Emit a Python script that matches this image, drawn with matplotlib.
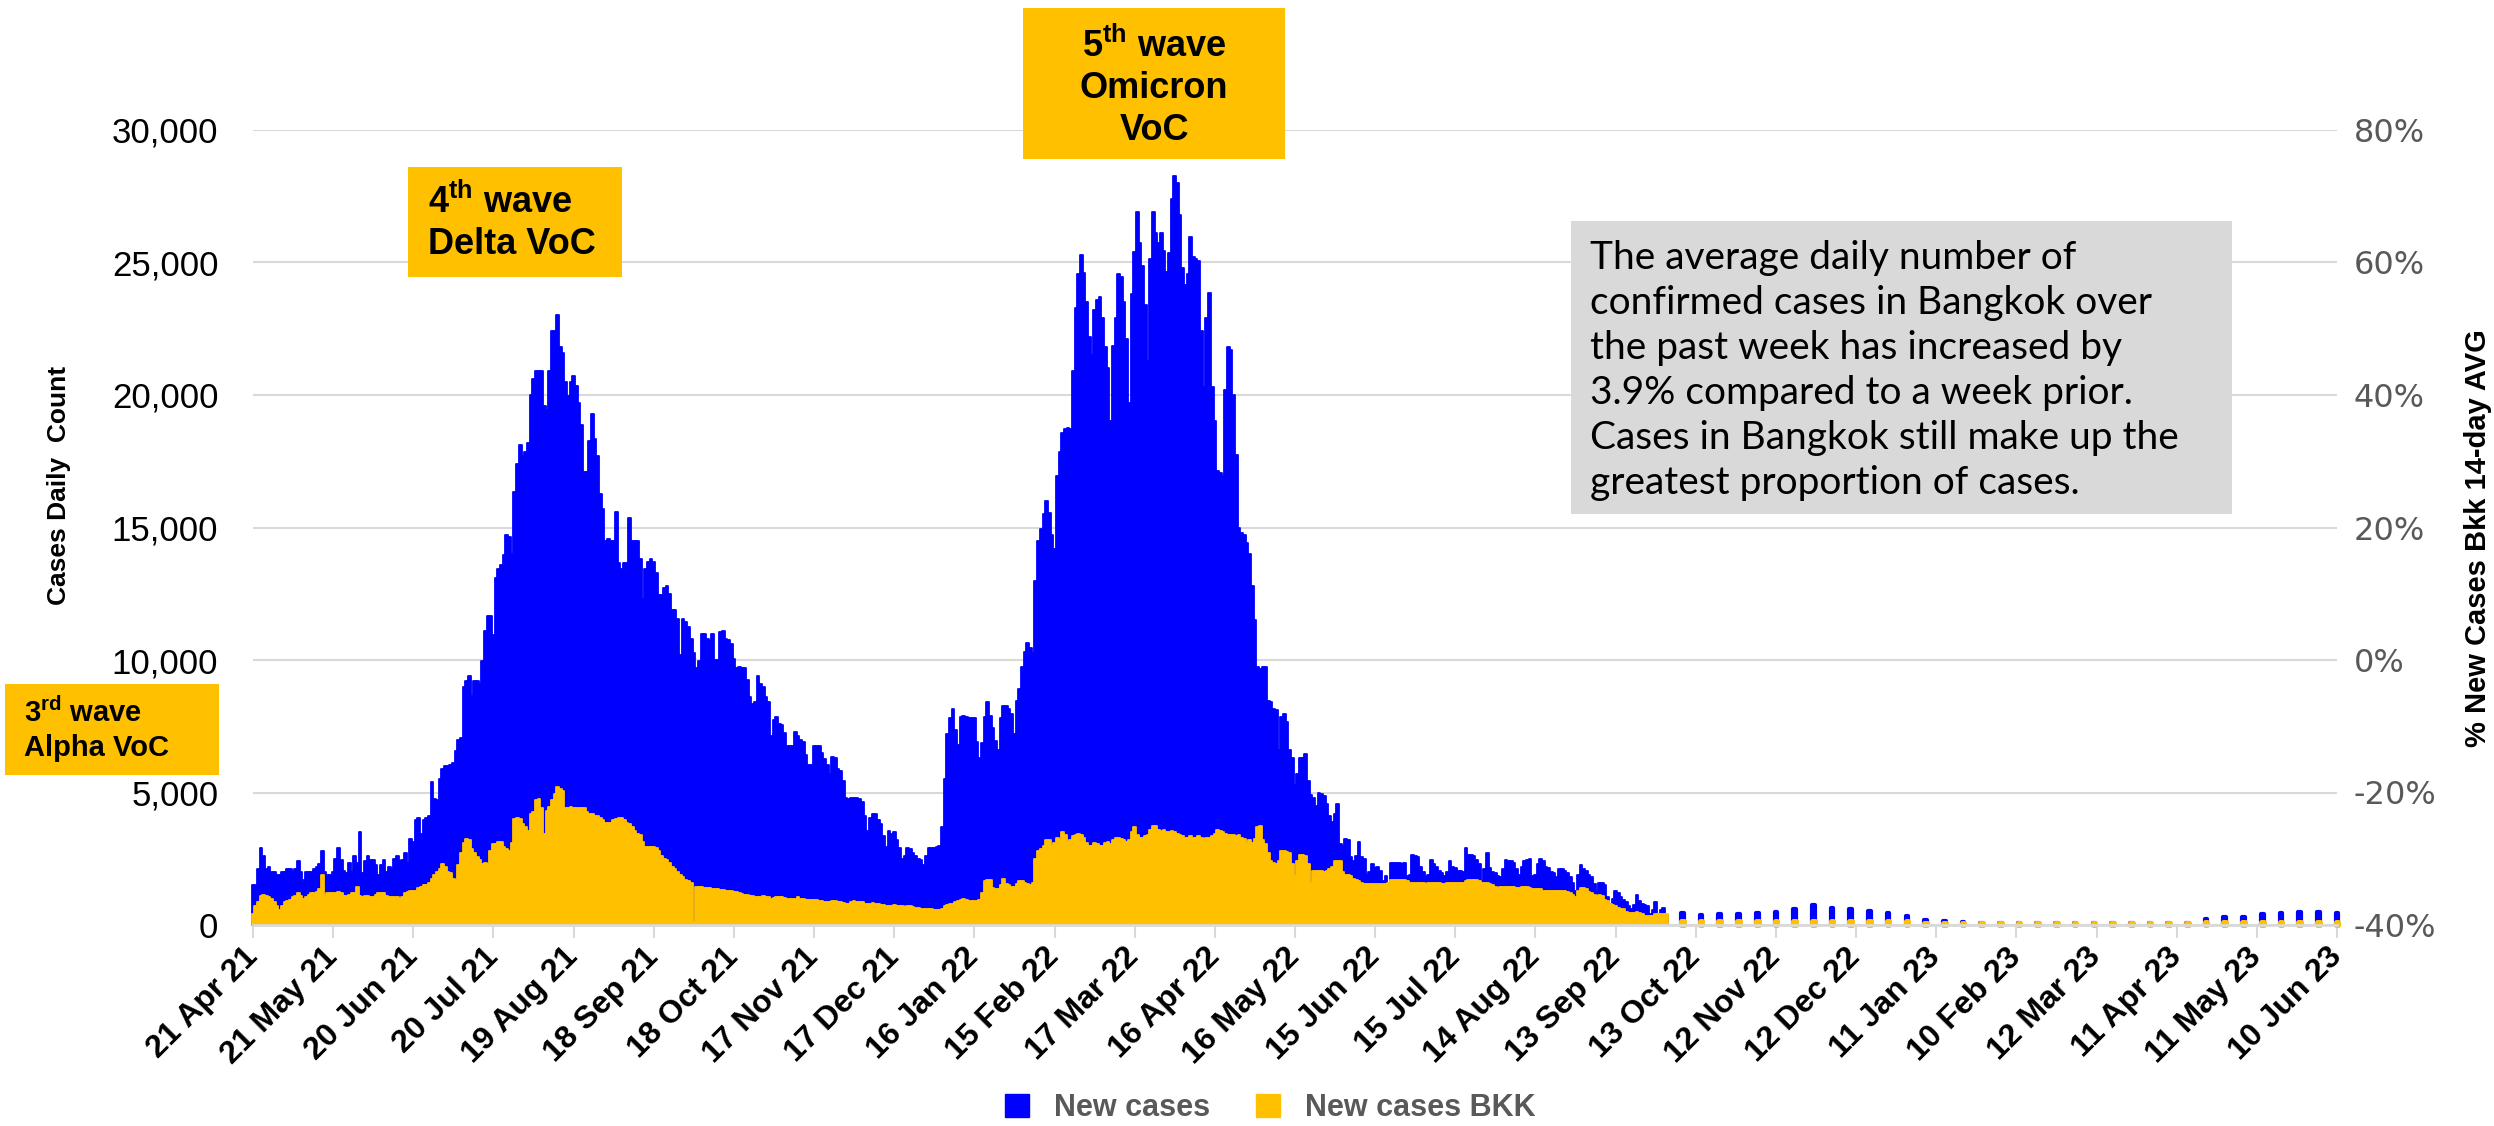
import matplotlib
matplotlib.use("Agg")  # headless
import matplotlib.pyplot as plt
from matplotlib.patches import Rectangle, Patch
from matplotlib.ticker import FuncFormatter, MultipleLocator
import pandas as pd

plt.rcParams["font.family"] = ["Liberation Sans", "DejaVu Sans"]
plt.rcParams["mathtext.fontset"] = "custom"
plt.rcParams["mathtext.rm"] = "Liberation Sans"
plt.rcParams["mathtext.bf"] = "Liberation Sans:bold"

BLUE = "#0000FF"
GOLD = "#FFC000"
GRID = "#D9D9D9"
GREY_TXT = "#595959"

# daily counts start here, weekly counts start after the switch to weekly reporting
FIRST_DAY = "2021-04-21"
FIRST_WEEK = "2022-10-08"

# ---- daily new cases (whole country), one list per 30-day tick period ----
cases_21apr21 = [1500, 1500, 2100, 2900, 2600, 2100, 2200, 2000, 2000, 1900, 1900, 2000, 2000, 2100, 2100,
                 2000, 2100, 2400, 2000, 1700, 2000, 2000, 2000, 2100, 2200, 2300, 2800, 2000, 1900, 1900]
cases_21may21 = [2000, 2500, 2900, 2450, 2050, 1950, 2350, 2000, 2600, 2350, 3500, 1950, 2400, 2600, 2450,
                 2450, 2250, 1900, 2250, 2450, 2000, 2200, 2100, 2500, 2600, 2400, 2450, 2700, 2350, 3250]
cases_20jun21 = [3150, 3950, 4050, 3450, 3950, 4050, 4100, 5400, 4750, 4700, 5500, 5900, 6000, 6000, 6050,
                 6100, 6550, 7000, 7050, 9000, 9200, 9400, 8650, 9200, 9200, 9100, 9950, 11100, 11650, 11650]
cases_20jul21 = [10950, 13100, 13450, 13600, 13950, 14700, 14650, 14000, 16350, 17400, 18100, 17700, 17850,
                 18200, 20000, 20600, 20900, 20900, 20900, 19600, 19450, 20900, 22400, 22400, 23000, 21800,
                 21600, 20500, 19950, 20500]
cases_19aug21 = [20700, 20350, 19700, 18850, 17100, 17100, 18250, 19300, 18350, 17700, 16250, 15700, 14500,
                 14550, 14500, 14500, 15600, 13650, 13450, 13650, 13650, 15350, 14500, 14500, 14500, 13800,
                 12300, 13450, 13700, 13800]
cases_18sep21 = [13700, 13300, 12450, 12450, 12700, 12800, 12500, 11900, 11900, 11550, 10200, 11550, 11450,
                 11250, 10800, 10250, 9700, 9950, 11000, 11000, 10800, 10700, 11000, 10000, 10000, 11050,
                 11100, 10800, 10750, 10600]
cases_18oct21 = [10050, 9700, 9750, 9700, 9700, 9250, 8600, 8350, 8400, 9400, 9100, 9000, 8600, 8400, 7150,
                 7750, 7850, 7600, 7550, 7250, 6750, 6750, 6750, 7300, 7150, 7000, 6900, 6400, 6050, 6050]
cases_17nov21 = [6750, 6750, 6750, 6500, 6250, 6050, 5700, 6350, 6300, 5900, 5800, 5450, 4800, 4750, 4800,
                 4800, 4800, 4750, 4650, 4100, 3550, 4050, 4200, 4200, 3950, 3800, 3350, 2950, 3550, 3450]
cases_17dec21 = [3500, 3200, 2900, 2500, 2600, 2900, 2850, 2700, 2600, 2500, 2450, 2250, 2600, 2900, 2900,
                 2900, 2950, 3000, 3700, 5500, 7200, 7800, 8150, 7350, 6800, 7850, 7900, 7850, 7800, 7800]
cases_16jan22 = [7800, 6900, 6300, 6850, 7850, 8400, 7900, 7450, 6950, 6600, 7800, 8250, 8250, 8150, 7950,
                 7200, 8450, 8900, 9750, 10300, 10650, 10450, 10250, 13000, 14500, 14950, 15500, 16000,
                 15550, 14700]
cases_15feb22 = [14200, 16950, 17850, 18550, 18700, 18750, 18700, 20900, 23300, 24550, 25300, 24600, 23500,
                 22200, 21500, 23200, 23600, 23700, 22900, 21800, 21000, 19000, 21850, 22900, 24550, 24450,
                 23500, 22100, 19700, 23800]
cases_17mar22 = [25400, 26900, 25750, 24850, 23400, 21300, 25150, 26900, 26100, 25750, 26100, 25450, 24650,
                 25350, 27400, 28250, 28000, 26800, 24800, 24150, 24550, 25950, 25200, 25150, 25050, 22400,
                 20300, 22900, 23850, 20300]
cases_16apr22 = [19000, 17150, 17050, 16950, 20200, 21800, 21700, 20000, 17750, 15000, 14800, 14700, 14400,
                 14000, 12800, 11500, 9750, 9650, 9750, 9750, 8450, 8400, 8150, 8100, 6600, 7850, 7950,
                 7650, 6600, 6300]
cases_16may22 = [5300, 5700, 6300, 6300, 6450, 5450, 4900, 4800, 4500, 5000, 4950, 4850, 4550, 4100, 3900,
                 4200, 4550, 3050, 3000, 3250, 3200, 2550, 2400, 2600, 3150, 2550, 2500, 1900, 2000, 2300]
cases_15jun22 = [2150, 2200, 2050, 1650, 1850, 1600, 2350, 2350, 2350, 2350, 2300, 2350, 1850, 1900, 2650,
                 2600, 2550, 2200, 2000, 1800, 1900, 2450, 2300, 2200, 2050, 1950, 1850, 2000, 2400, 2200]
cases_15jul22 = [2150, 2050, 2050, 2000, 2900, 2650, 2650, 2600, 2450, 2300, 1650, 2100, 2700, 2150, 2000,
                 1950, 1850, 1800, 2100, 2450, 2400, 2400, 2350, 2100, 1900, 2200, 2400, 2450, 2500, 1850]
cases_14aug22 = [1900, 2300, 2500, 2400, 2200, 2150, 2000, 1950, 1800, 2100, 2100, 2050, 1950, 1800, 1600,
                 1300, 1900, 2250, 2100, 2050, 1900, 1800, 1550, 1300, 1600, 1600, 1500, 1050, 800, 1000]
cases_13sep22 = [1300, 1200, 1050, 950, 850, 700, 600, 750, 1150, 900, 800, 750, 700, 400, 550, 850, 400,
                 550, 650, 350]

# ---- daily new cases in Bangkok ----
bkk_21apr21 = [400, 700, 850, 1100, 1150, 1100, 1050, 1000, 850, 700, 550, 700, 850, 900, 950, 1050, 1100,
               1200, 1100, 1000, 1050, 1150, 1200, 1200, 1250, 1350, 1900, 1100, 1200, 1200]
bkk_21may21 = [1200, 1200, 1250, 1200, 1100, 1100, 1150, 1200, 1200, 1450, 1100, 1050, 1100, 1100, 1050,
               1050, 1150, 1200, 1200, 1200, 1100, 1050, 1050, 1050, 1050, 1000, 1050, 1200, 1250, 1300]
bkk_20jun21 = [1300, 1300, 1400, 1450, 1500, 1500, 1600, 1750, 1900, 2000, 2100, 2300, 2200, 2000, 1950,
               1750, 1700, 2250, 2700, 3100, 3250, 3200, 2850, 2700, 2550, 2450, 2300, 2350, 2300, 2800]
bkk_20jul21 = [3050, 3050, 3150, 3150, 2950, 2850, 2800, 3100, 4000, 4050, 4000, 3800, 3700, 3550, 4200,
               4250, 4700, 4750, 4400, 3450, 4300, 4450, 4700, 4950, 5200, 5150, 5050, 4400, 4400, 4450]
bkk_19aug21 = [4400, 4400, 4400, 4400, 4400, 4250, 4200, 4200, 4100, 4100, 4050, 3950, 3850, 3850, 3850,
               3950, 4000, 4050, 4050, 3950, 3850, 3800, 3700, 3550, 3450, 3400, 3150, 2950, 2950, 2950]
bkk_18sep21 = [2950, 2900, 2800, 2600, 2500, 2450, 2350, 2200, 2100, 2000, 1900, 1800, 1700, 1650, 1600,
               100, 1450, 1430, 1420, 1400, 1400, 1380, 1370, 1350, 1350, 1330, 1320, 1300, 1300, 1280]
bkk_18oct21 = [1250, 1230, 1200, 1180, 1150, 1120, 1100, 1080, 1050, 1050, 1070, 1080, 1060, 1050, 1000,
               1020, 1040, 1050, 1060, 1030, 1000, 980, 980, 1000, 1040, 1000, 970, 950, 930, 940]
bkk_17nov21 = [950, 950, 900, 900, 880, 850, 850, 900, 900, 880, 850, 820, 800, 800, 850, 900, 880, 850,
               850, 800, 780, 800, 820, 800, 780, 750, 750, 720, 700, 720]
bkk_17dec21 = [750, 720, 700, 700, 680, 700, 700, 680, 650, 650, 620, 600, 620, 600, 600, 580, 550, 550,
               600, 700, 750, 800, 800, 850, 900, 950, 1000, 950, 900, 900]
bkk_16jan22 = [900, 900, 950, 1200, 1650, 1700, 1700, 1400, 1350, 1350, 1500, 1750, 1550, 1500, 1450, 1450,
               1550, 1650, 1650, 1600, 1550, 1500, 1600, 2500, 2800, 2850, 3000, 3200, 3200, 3000]
bkk_15feb22 = [3100, 3300, 3200, 3500, 3400, 3150, 3200, 3350, 3400, 3450, 3400, 3300, 3100, 3000, 3000,
               3100, 3050, 3000, 3000, 3100, 3150, 3050, 3200, 3300, 3300, 3250, 3200, 3150, 3200, 3500]
bkk_17mar22 = [3700, 3400, 3300, 3300, 3350, 3400, 3600, 3750, 3750, 3600, 3550, 3600, 3500, 3500, 3550,
               3500, 3450, 3400, 3350, 3300, 3300, 3350, 3300, 3300, 3350, 3300, 3250, 3300, 3300, 3350]
bkk_16apr22 = [3450, 3600, 3550, 3500, 3450, 3400, 3400, 3400, 3350, 3400, 3300, 3250, 3100, 3200, 3100,
               3250, 3700, 3750, 3200, 3050, 2700, 2400, 2350, 2300, 2400, 2800, 2800, 2750, 2700, 2300]
bkk_16may22 = [1850, 2400, 2650, 2650, 2600, 2300, 1600, 2050, 2050, 2050, 2050, 2000, 2050, 2100, 2200,
               2400, 2400, 2400, 2000, 1900, 1900, 1850, 1750, 1700, 1650, 1600, 1550, 1550, 1550, 1550]
bkk_15jun22 = [1550, 1550, 1550, 1550, 1550, 1600, 1700, 1700, 1700, 1700, 1700, 1700, 1650, 1600, 1600,
               1600, 1600, 1600, 1600, 1550, 1600, 1600, 1600, 1600, 1600, 1550, 1550, 1600, 1600, 1600]
bkk_15jul22 = [1600, 1600, 1600, 1600, 1650, 1700, 1700, 1700, 1700, 1650, 1600, 1600, 1600, 1550, 1500,
               1450, 1400, 1450, 1450, 1450, 1450, 1450, 1450, 1400, 1400, 1450, 1450, 1450, 1400, 1350]
bkk_14aug22 = [1350, 1350, 1350, 1300, 1300, 1300, 1300, 1300, 1300, 1300, 1300, 1300, 1250, 1200, 1150,
               1050, 1300, 1400, 1400, 1350, 1250, 1200, 1150, 1100, 1150, 1100, 950, 900, 800, 750]
bkk_13sep22 = [700, 650, 600, 600, 500, 450, 450, 450, 500, 450, 400, 350, 350, 350, 350, 400, 400, 400,
               400, 400]

# ---- weekly reporting from Oct 2022 ----
cases_weekly = [460, 370, 430, 400, 440, 490, 600, 750, 640, 610, 530, 450, 340, 170, 160, 120, 80, 80,
                80, 80, 80, 80, 80, 80, 80, 80, 80, 80, 210, 300, 290, 400, 440, 480, 490, 450]
bkk_weekly = [150, 150, 150, 150, 150, 150, 150, 150, 150, 150, 150, 150, 150, 70, 70, 70, 70, 70, 70, 70,
              70, 70, 70, 70, 70, 70, 70, 70, 130, 130, 130, 130, 130, 130, 130, 130]

TICK_LABELS = ["21 Apr 21", "21 May 21", "20 Jun 21", "20 Jul 21", "19 Aug 21", "18 Sep 21", "18 Oct 21",
               "17 Nov 21", "17 Dec 21", "16 Jan 22", "15 Feb 22", "17 Mar 22", "16 Apr 22", "16 May 22",
               "15 Jun 22", "15 Jul 22", "14 Aug 22", "13 Sep 22", "13 Oct 22", "12 Nov 22", "12 Dec 22",
               "11 Jan 23", "10 Feb 23", "12 Mar 23", "11 Apr 23", "11 May 23", "10 Jun 23"]
PCT_TICKS = [-0.4, -0.2, 0.0, 0.2, 0.4, 0.6, 0.8]

BOX_LINES = ["The average daily number of",
             "confirmed cases in Bangkok over",
             "the past week has increased by",
             "3.9% compared to a week prior.",
             "Cases in Bangkok still make up the",
             "greatest proportion of cases."]

daily_cases = sum([cases_21apr21, cases_21may21, cases_20jun21, cases_20jul21, cases_19aug21, cases_18sep21,
                   cases_18oct21, cases_17nov21, cases_17dec21, cases_16jan22, cases_15feb22, cases_17mar22,
                   cases_16apr22, cases_16may22, cases_15jun22, cases_15jul22, cases_14aug22, cases_13sep22], [])
daily_bkk = sum([bkk_21apr21, bkk_21may21, bkk_20jun21, bkk_20jul21, bkk_19aug21, bkk_18sep21,
                 bkk_18oct21, bkk_17nov21, bkk_17dec21, bkk_16jan22, bkk_15feb22, bkk_17mar22,
                 bkk_16apr22, bkk_16may22, bkk_15jun22, bkk_15jul22, bkk_14aug22, bkk_13sep22], [])
daily_dates = pd.date_range(FIRST_DAY, periods=len(daily_cases), freq="D")
weekly_dates = pd.date_range(FIRST_WEEK, periods=len(cases_weekly), freq="7D")
tick_dates = pd.to_datetime(TICK_LABELS, format="%d %b %y")

W, H = 2494, 1126
fig = plt.figure(figsize=(W / 100, H / 100), dpi=100)


def fx(px):
    return px / W


def fy(py):
    return 1 - py / H


ax = fig.add_axes([fx(253), fy(925), fx(2337) - fx(253), fy(130) - fy(925)])

bar_kw = dict(width=1.0, linewidth=1.3, joinstyle="round", clip_on=False)
ax.bar(daily_dates, daily_cases, color=BLUE, edgecolor=BLUE, **bar_kw)
ax.bar(weekly_dates, cases_weekly, color=BLUE, edgecolor=BLUE, **{**bar_kw, "linewidth": 3.0})
ax.bar(daily_dates, daily_bkk, color=GOLD, edgecolor=GOLD, **bar_kw)
ax.bar(weekly_dates, bkk_weekly, color=GOLD, edgecolor=GOLD, **{**bar_kw, "linewidth": 3.6})

ax.set_xlim(tick_dates[0], tick_dates[-1])
ax.set_ylim(0, 30000)
ax.yaxis.set_major_locator(MultipleLocator(5000))
ax.yaxis.set_major_formatter(FuncFormatter(lambda v, _: f"{v:,.0f}"))
ax.tick_params(axis="y", length=0, pad=25, labelsize=25)
ax.set_xticks(tick_dates)
ax.set_xticklabels(TICK_LABELS, rotation=45, ha="right", va="center", rotation_mode="anchor",
                   fontweight="bold", fontsize=23)
ax.tick_params(axis="x", length=9, width=1.5, color=GRID, pad=11)
ax.grid(axis="y", color=GRID, linewidth=1.5)
ax.set_axisbelow(True)
for side in ("top", "left", "right"):
    ax.spines[side].set_visible(False)
ax.spines["bottom"].set_color(GRID)
ax.spines["bottom"].set_linewidth(2)

ax2 = ax.twinx()
ax2.set_ylim(PCT_TICKS[0], PCT_TICKS[-1])
ax2.set_yticks(PCT_TICKS)
ax2.yaxis.set_major_formatter(FuncFormatter(lambda v, _: f"{v:.0%}"))
ax2.tick_params(axis="y", length=0, pad=12, labelsize=23, labelcolor=GREY_TXT)
for lab in ax2.get_yticklabels():
    lab.set_fontfamily("DejaVu Sans")
for sp in ax2.spines.values():
    sp.set_visible(False)

fig.text(fx(59), fy(485), "Cases Daily  Count", rotation=90, ha="center", va="center",
         fontsize=19, fontweight="bold")
fig.text(fx(2478), fy(538), "% New Cases Bkk 14-day AVG", rotation=90, ha="center", va="center",
         fontsize=21, fontweight="bold", family=["Liberation Sans Narrow", "Liberation Sans"])


def box(x0, y0, x1, y1, color):
    fig.add_artist(Rectangle((fx(x0), fy(y1)), fx(x1) - fx(x0), fy(y0) - fy(y1),
                             transform=fig.transFigure, facecolor=color, edgecolor="none", zorder=5))


# wave call-outs
box(5, 684, 219, 775, GOLD)
fig.text(fx(24), fy(713), "3$^{\\mathbf{rd}}$ wave", fontsize=21, fontweight="bold", va="center", zorder=6)
fig.text(fx(24), fy(748), "Alpha VoC", fontsize=21, fontweight="bold", va="center", zorder=6)

box(408, 167, 622, 277, GOLD)
fig.text(fx(428), fy(202), "4$^{\\mathbf{th}}$ wave", fontsize=26, fontweight="bold", va="center", zorder=6)
fig.text(fx(428), fy(245), "Delta VoC", fontsize=26, fontweight="bold", va="center", zorder=6)

box(1023, 8, 1285, 159, GOLD)
for text, y in zip(["5$^{\\mathbf{th}}$ wave", "Omicron", "VoC"], [46, 89, 130]):
    fig.text(fx(1154), fy(y), text, fontsize=26, fontweight="bold", ha="center", va="center", zorder=6)

# summary note
box(1571, 221, 2232, 514, GRID)
for i, line in enumerate(BOX_LINES):
    fig.text(fx(1590), fy(258 + 45 * i), line, fontsize=28, family=["Lato", "Liberation Sans"],
             va="center", zorder=6)

fig.legend(handles=[Patch(color=BLUE), Patch(color=GOLD)], labels=["New cases", "New cases BKK"],
           loc="center", bbox_to_anchor=(fx(1270), fy(1108)), ncol=2, frameon=False,
           prop={"size": 22, "weight": "bold"}, labelcolor=GREY_TXT,
           handlelength=0.8, handleheight=0.8, handletextpad=0.8, columnspacing=1.5)

fig.savefig("out.png", dpi=100)
